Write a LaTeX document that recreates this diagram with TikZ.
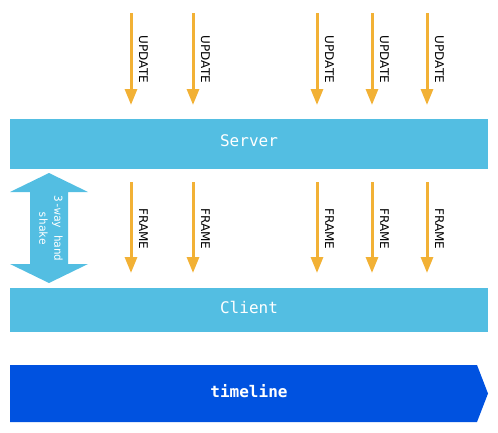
\documentclass[tikz,border=0pt]{standalone}
\usepackage{fontspec}
\setmainfont{DejaVu Sans}
\setmonofont{DejaVu Sans Mono}
\usetikzlibrary{arrows.meta}
\definecolor{barblue}{HTML}{53BEE2}
\definecolor{arroworange}{HTML}{F2B135}
\definecolor{tlblue}{HTML}{0052E0}
\begin{document}
\begin{tikzpicture}[x=1pt,y=-1pt,
  bar/.style={fill=barblue, draw=none, minimum width=478pt, inner sep=0pt, text=white,
    text depth=6pt, font=\ttfamily\fontsize{16}{16}\selectfont},
  msg/.style={draw=arroworange, line width=3pt, -{Triangle[width=12pt,length=16pt]}},
  msglabel/.style={rotate=-90, font=\fontsize{12}{12}\selectfont, inner sep=0pt}]
\useasboundingbox (0,0) rectangle (498,432);
% bars
\node[bar, minimum height=50pt] (server) at (249,144) {Server};
\node[bar, minimum height=44pt] (client) at (249,310) {Client};
% timeline
\fill[tlblue] (10,365) -- (477,365) -- (488,393.5) -- (477,422) -- (10,422) -- cycle;
\node[text=white, font=\ttfamily\bfseries\fontsize{16}{16}\selectfont] (timeline) at (249,391.5) {timeline};
% handshake double arrow
\fill[barblue] (49,173) -- (88,192) -- (68,192) -- (68,264) -- (88,264) -- (49,283)
  -- (10,264) -- (30,264) -- (30,192) -- (10,192) -- cycle;
\node[rotate=-90, text=white, align=center, inner sep=0pt,
  font=\ttfamily\fontsize{11}{15}\selectfont] (hs) at (51,228.5) {3-way hand\\shake};
% update and frame arrows
\foreach \x [count=\i] in {131,193,317,372,427} {
  \coordinate (u\i s) at (\x,13);
  \coordinate (u\i e) at (\x,105);
  \draw[msg] (u\i s) -- (u\i e);
  \node[msglabel] (ul\i) at (\x+12.5,59.5) {UPDATE};
  \coordinate (f\i s) at (\x,182);
  \coordinate (f\i e) at (\x,273);
  \draw[msg] (f\i s) -- (f\i e);
  \node[msglabel] (fl\i) at (\x+12.5,229) {FRAME};
}
\end{tikzpicture}
\end{document}
